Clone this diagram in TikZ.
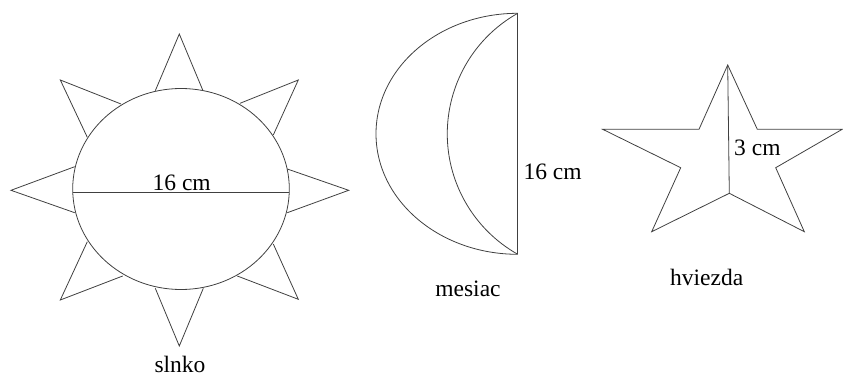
\documentclass[tikz,border=0pt]{standalone}
\usepackage{fontspec}
\setmainfont{Liberation Serif}
\tikzset{
  shape line/.style={draw=black!75, line width=0.8pt, line join=miter},
  lbl/.style={inner sep=0pt, font=\fontsize{23.5}{28}\selectfont, text=black},
}
\begin{document}
\begin{tikzpicture}[x=1pt,y=1pt]
\useasboundingbox (0,0) rectangle (843,-377);
% ---- sun ----
\coordinate (sc) at (181,-189);
\draw[shape line] (sc) ellipse[x radius=108.3, y radius=100.5];
\draw[shape line] (155.3,-90.7) -- (179.3,-34) -- (202.7,-90);
\draw[shape line] (155.3,-288.3) -- (179.3,-346) -- (203.3,-288.3);
\draw[shape line] (74.7,-166.7) -- (11,-190.3) -- (74.7,-212.7);
\draw[shape line] (287.3,-169) -- (348.7,-190.3) -- (287.3,-212.7);
\draw[shape line] (121,-104) -- (60.3,-80) -- (87.3,-137.3);
\draw[shape line] (240,-103.3) -- (298.3,-80) -- (273.3,-135);
\draw[shape line] (87.3,-241.7) -- (60.3,-300) -- (122.7,-276);
\draw[shape line] (273.3,-244) -- (298.3,-299.3) -- (237.3,-276);
\coordinate (dl) at (72.7,-192.3);
\coordinate (dr) at (289.3,-192.3);
\draw[shape line] (dl) -- (dr);
\node[lbl, anchor=base] (sunlen) at (181.7,-190.5) {16 cm};
\node[lbl, anchor=base] (slnko) at (180,-372.5) {slnko};
% ---- moon ----
\coordinate (mt) at (517.7,-13.3);
\coordinate (mb) at (517.7,-254.3);
\draw[shape line] (mt) -- (mb);
\draw[shape line] (mt) arc[start angle=90, end angle=270, x radius=141.7, y radius=120.5];
\draw[shape line] (mt) arc[start angle=119.4, end angle=240.6, radius=138.3];
\node[lbl, anchor=base west] (moonlen) at (523.3,-179.3) {16 cm};
\node[lbl, anchor=base] (mesiac) at (468,-296.7) {mesiac};
% ---- star ----
\coordinate (st) at (727.7,-65);
\coordinate (sb) at (729.3,-193.3);
\draw[shape line] (st) -- (699,-129.3) -- (602.7,-129.3) -- (680.7,-167.7)
  -- (651.7,-231.7) -- (sb) -- (804.3,-231.7) -- (775.7,-167.7)
  -- (842.2,-129.3) -- (757.3,-129.3) -- cycle;
\draw[shape line] (st) -- (sb);
\node[lbl, anchor=base west] (starlen) at (734,-155) {3 cm};
\node[lbl, anchor=base] (hviezda) at (706.7,-285) {hviezda};
\end{tikzpicture}
\end{document}
